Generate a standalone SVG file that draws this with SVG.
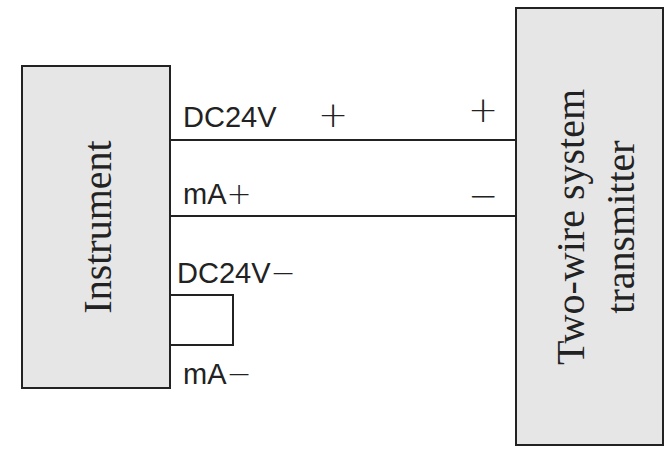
<svg xmlns="http://www.w3.org/2000/svg" width="672" height="456" viewBox="0 0 672 456">
<style>
.box{fill:#e6e6e6;stroke:#222;stroke-width:2}
.lbl{font-family:"Liberation Sans",Arial,sans-serif;font-size:29px;fill:#222}
.sym{font-family:"DejaVu Sans",sans-serif;font-weight:200;font-size:36px;fill:#222}
.big{font-family:"Liberation Serif","Times New Roman",serif;font-size:40px;fill:#222;text-anchor:middle}
.w{stroke:#222;stroke-width:2;fill:none}
</style>
<rect width="672" height="456" fill="#fff"/>
<g id="instrument">
<rect class="box" x="22" y="66" width="148" height="322"/>
<text class="big" transform="translate(111,227) rotate(-90)">Instrument</text>
</g>
<g id="transmitter">
<rect class="box" x="516" y="8" width="147" height="437"/>
<text class="big" transform="translate(584,227) rotate(-90)">Two-wire system</text>
<text class="big" transform="translate(634,227) rotate(-90)">transmitter</text>
</g>
<g id="resistor">
<rect x="170" y="295" width="63" height="50" fill="#fff" stroke="#222" stroke-width="2"/>
</g>
<g id="connectors">
<line class="w" x1="170" y1="140" x2="516" y2="140"/>
<line class="w" x1="170" y1="216" x2="516" y2="216"/>
</g>
<g id="labels">
<text class="lbl" x="183" y="127">DC24V</text>
<text class="sym" x="318" y="127">+</text>
<text class="sym" x="468" y="122">+</text>
<text class="lbl" x="183" y="204">mA<tspan class="sym" style="font-size:30px">+</tspan></text>
<text class="sym" x="468" y="208">−</text>
<text class="lbl" x="177" y="283">DC24V<tspan class="sym" style="font-size:30px">−</tspan></text>
<text class="lbl" x="183" y="384">mA<tspan class="sym" style="font-size:30px">−</tspan></text>
</g>
</svg>
